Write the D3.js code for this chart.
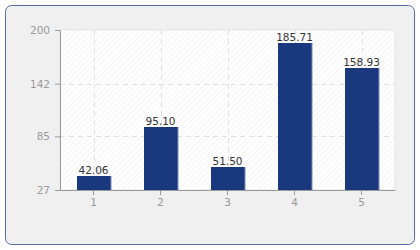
<!DOCTYPE html>
<html>
<head>
<meta charset="utf-8">
<script src="https://cdn.jsdelivr.net/npm/d3@7"></script>
<style>
  body { margin: 0; background: #fff; }
  text { font-family: "DejaVu Sans", Verdana, sans-serif; }
</style>
</head>
<body>
<svg id="chart" width="420" height="250"></svg>
<script>
// chart data
var categories = ["1", "2", "3", "4", "5"];
var values = [42.06, 95.10, 51.50, 185.71, 158.93];
var yTicks = [27, 85, 142, 200];

var svg = d3.select("#chart"),
    margin = {top: 30, right: 25, bottom: 60, left: 60},
    w = 420,
    h = 250;

// outer panel
svg.append("rect")
  .attr("x", 5.5).attr("y", 5.5)
  .attr("width", w - 11).attr("height", h - 11)
  .attr("rx", 6).attr("ry", 6)
  .attr("fill", "#f0f0f0")
  .attr("stroke", "#5a6aa6")
  .attr("stroke-width", 1);

// hatch pattern for plot background
var defs = svg.append("defs");
var pat = defs.append("pattern")
  .attr("id", "hatch")
  .attr("width", 4).attr("height", 4)
  .attr("patternUnits", "userSpaceOnUse")
  .attr("patternTransform", "rotate(45)");
pat.append("rect").attr("width", 4).attr("height", 4).attr("fill", "#ffffff");
pat.append("line")
  .attr("x1", 0).attr("y1", 0).attr("x2", 0).attr("y2", 4)
  .attr("stroke", "#ececec").attr("stroke-width", 1);

var x_scale = d3.scaleBand()
  .domain(categories)
  .range([margin.left, w - margin.right])
  .padding(0);

var y_scale = d3.scaleLinear()
  .domain([27, 200])
  .range([h - margin.bottom, margin.top]);

// plot background
svg.append("rect")
  .attr("x", margin.left).attr("y", margin.top)
  .attr("width", w - margin.right - margin.left)
  .attr("height", h - margin.bottom - margin.top)
  .attr("fill", "url(#hatch)")
  .attr("stroke", "#e4e4e4");

// grid lines
svg.append("g")
  .selectAll("line")
  .data(yTicks.slice(1, -1))
  .enter().append("line")
  .attr("x1", margin.left).attr("x2", w - margin.right)
  .attr("y1", function(d) { return Math.round(y_scale(d)) + 0.5; })
  .attr("y2", function(d) { return Math.round(y_scale(d)) + 0.5; })
  .attr("stroke", "#e0e0e0")
  .attr("stroke-dasharray", "5,4");

svg.append("g")
  .selectAll("line")
  .data(categories)
  .enter().append("line")
  .attr("x1", function(d) { return Math.round(x_scale(d) + x_scale.bandwidth() / 2) + 0.5; })
  .attr("x2", function(d) { return Math.round(x_scale(d) + x_scale.bandwidth() / 2) + 0.5; })
  .attr("y1", margin.top).attr("y2", h - margin.bottom)
  .attr("stroke", "#e0e0e0")
  .attr("stroke-dasharray", "5,4");

// bars
var bw = x_scale.bandwidth() * 0.5;
var bars = svg.append("g").selectAll("g")
  .data(values)
  .enter().append("g");

// light edge on the right of each bar
bars.append("rect")
  .attr("x", function(d, i) { return Math.round(x_scale(categories[i]) + x_scale.bandwidth() / 2 - bw / 2) + 1; })
  .attr("y", function(d) { return Math.round(y_scale(d)); })
  .attr("width", bw)
  .attr("height", function(d) { return h - margin.bottom - Math.round(y_scale(d)); })
  .attr("fill", "#7d8db8");

bars.append("rect")
  .attr("x", function(d, i) { return Math.round(x_scale(categories[i]) + x_scale.bandwidth() / 2 - bw / 2); })
  .attr("y", function(d) { return Math.round(y_scale(d)); })
  .attr("width", bw)
  .attr("height", function(d) { return h - margin.bottom - Math.round(y_scale(d)); })
  .attr("fill", "#1a387e");

// value labels
bars.append("text")
  .attr("x", function(d, i) { return x_scale(categories[i]) + x_scale.bandwidth() / 2; })
  .attr("y", function(d) { return y_scale(d) - 2; })
  .attr("text-anchor", "middle")
  .attr("font-size", "10.5px")
  .attr("fill", "#333")
  .text(function(d) { return d.toFixed(2); });

// axes
var xAxis = d3.axisBottom(x_scale).tickSize(5).tickSizeOuter(0).tickPadding(4);
var yAxis = d3.axisLeft(y_scale).tickValues(yTicks).tickSize(5).tickSizeOuter(0).tickPadding(5);

var gX = svg.append("g")
  .attr("transform", "translate(0," + (h - margin.bottom) + ")")
  .call(xAxis);

var gY = svg.append("g")
  .attr("transform", "translate(" + margin.left + ",0)")
  .call(yAxis);

[gX, gY].forEach(function(g) {
  g.select(".domain").attr("stroke", "#999");
  g.selectAll(".tick line").attr("stroke", "#999");
  g.selectAll(".tick text")
    .attr("fill", "#999")
    .attr("font-size", "10.5px")
    .attr("font-family", "DejaVu Sans, Verdana, sans-serif");
});
</script>
</body>
</html>
